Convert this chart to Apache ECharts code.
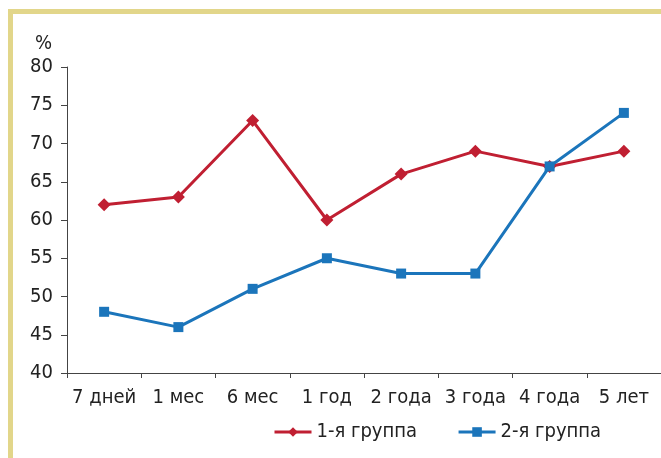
<!DOCTYPE html>
<html><head><meta charset="utf-8">
<script src="https://cdn.jsdelivr.net/npm/echarts@6/dist/echarts.min.js"></script>
<style>html,body{margin:0;padding:0;background:#fff}#c{width:661px;height:458px}</style>
</head><body><div id="c"></div>
<script>
var categories = ['7 дней','1 мес','6 мес','1 год','2 года','3 года','4 года','5 лет'];
var group1 = [62, 63, 73, 60, 66, 69, 67, 69];
var group2 = [48, 46, 51, 55, 53, 53, 67, 74];
var seriesNames = ['1-я группа','2-я группа'];
var yTicks = {min: 40, max: 80, interval: 5};

var FONT = '"Liberation Sans Narrow","Arial Narrow","DejaVu Sans Condensed",sans-serif';
var chart = echarts.init(document.getElementById('c'));
chart.setOption({
  animation: false,
  backgroundColor: '#fff',
  title: {text: '%', left: 30, top: 29, textStyle: {fontFamily: FONT, fontSize: 20, fontWeight: 'normal', color: '#222'}},
  graphic: [
    {type: 'rect', left: 9, top: 9, shape: {width: 652, height: 5}, style: {fill: '#e2d68a'}, z: 100},
    {type: 'rect', left: 8, top: 9, shape: {width: 5, height: 449}, style: {fill: '#e2d68a'}, z: 100}
  ],
  grid: {left: 67, right: 0, top: 67, bottom: 85},
  legend: {
    left: 268, top: 417, itemWidth: 37, itemHeight: 12, itemGap: 40,
    lineStyle: {width: 3},
    textStyle: {fontFamily: FONT, fontSize: 20, color: '#222'},
    data: seriesNames
  },
  xAxis: {
    type: 'category', data: categories, boundaryGap: true,
    axisLine: {lineStyle: {color: '#444', width: 1}},
    axisTick: {show: true, length: 5, lineStyle: {color: '#444'}},
    axisLabel: {fontFamily: FONT, fontSize: 20, color: '#222', margin: 15, interval: 0}
  },
  yAxis: {
    type: 'value', min: yTicks.min, max: yTicks.max, interval: yTicks.interval,
    axisLine: {show: true, lineStyle: {color: '#444', width: 1}},
    axisTick: {show: true, length: 6, lineStyle: {color: '#444'}},
    splitLine: {show: false},
    axisLabel: {fontFamily: FONT, fontSize: 20, color: '#222', margin: 14}
  },
  series: [
    {name: seriesNames[0], type: 'line', data: group1, symbol: 'diamond', symbolSize: 13,
     itemStyle: {color: '#c01f32'}, lineStyle: {color: '#c01f32', width: 3}},
    {name: seriesNames[1], type: 'line', data: group2, symbol: 'rect', symbolSize: 10,
     itemStyle: {color: '#1b75bb'}, lineStyle: {color: '#1b75bb', width: 3}}
  ]
});
</script></body></html>
